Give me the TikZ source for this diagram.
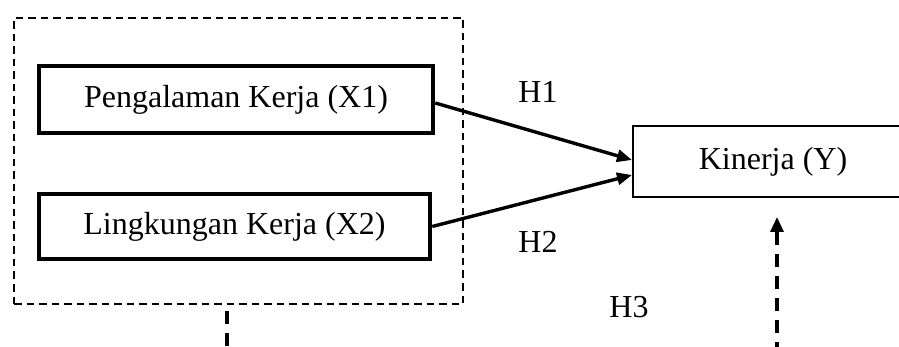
\documentclass[tikz,border=0pt]{standalone}
\usepackage{fontspec}
\setmainfont{Liberation Serif}
\usetikzlibrary{arrows.meta}
\tikzset{
  varbox/.style={draw, line width=4.5pt, rectangle, inner sep=0pt, font=\fontsize{32}{38}\selectfont},
  outbox/.style={draw, line width=2pt, rectangle, inner sep=0pt, font=\fontsize{32}{38}\selectfont},
  groupbox/.style={draw, line width=2.4pt, dash pattern=on 7.5pt off 5pt, rectangle, inner sep=0pt},
  hlabel/.style={font=\fontsize{32}{38}\selectfont, inner sep=0pt},
  link/.style={line width=3.4pt, -{Triangle[length=15pt,width=12pt]}},
  dlink/.style={line width=3.4pt, dash pattern=on 13pt off 9pt},
}
\begin{document}
\begin{tikzpicture}[x=1pt,y=-1pt]
\useasboundingbox (0,0) rectangle (899,347);
\fill[white] (0,0) rectangle (899,347);
\clip (0,0) rectangle (899,347);
\node[groupbox, minimum width=449pt, minimum height=286pt] (grp) at (238.5,161) {};
\node[varbox, minimum width=394pt, minimum height=67pt] (X1) at (236,99.5) {Pengalaman Kerja (X1)};
\node[varbox, minimum width=391pt, minimum height=65pt] (X2) at (234.5,226.5) {Lingkungan Kerja (X2)};
\node[outbox, minimum width=280pt, minimum height=71pt] (Y) at (773,161.5) {Kinerja (Y)};
\node[hlabel] (H1) at (538,92) {H1};
\node[hlabel] (H2) at (538,242) {H2};
\node[hlabel] (H3) at (629,307) {H3};
\draw[link] ([yshift=-3.5pt]X1.east) -- ([yshift=1.5pt]Y.west);
\draw[link] (X2.east) -- ([yshift=-13.5pt]Y.west);
\coordinate (gbot) at (227,311);
\coordinate (gend) at (227,355);
\draw[dlink] (gbot) -- (gend);
\coordinate (h3bot) at (777,355);
\coordinate (h3top) at (777,217);
\draw[dlink, -{Triangle[length=15pt,width=13pt]}] (h3bot) -- (h3top);
\end{tikzpicture}
\end{document}
